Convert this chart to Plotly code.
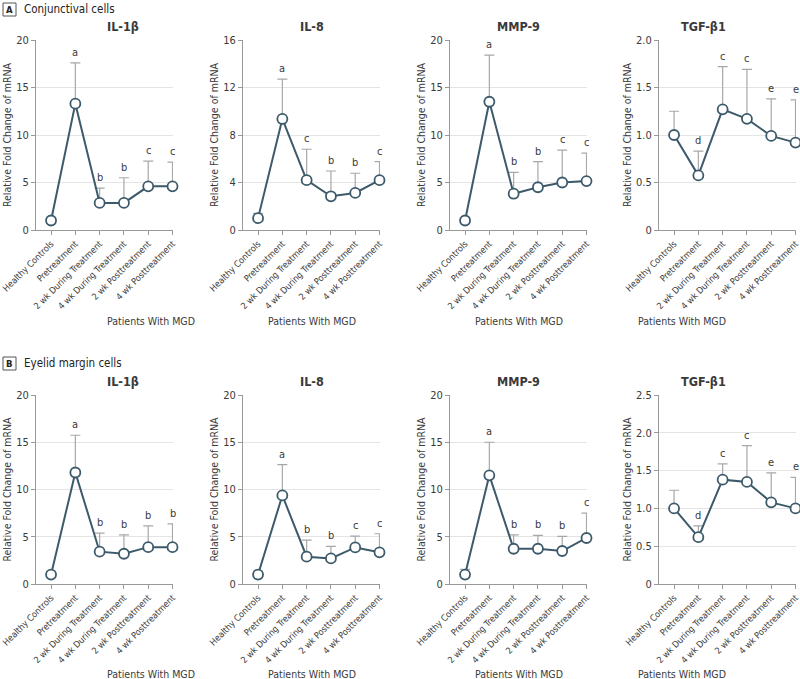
import plotly.graph_objects as go

categories = ["Healthy Controls", "Pretreatment", "2 wk During Treatment",
              "4 wk During Treatment", "2 wk Posttreatment", "4 wk Posttreatment"]

titles = ["IL-1β", "IL-8", "MMP-9", "TGF-β1"]

# Panel A: Conjunctival cells
a_il1b = [1.0, 13.3, 2.85, 2.85, 4.6, 4.6]
a_il1b_err = [0.3, 4.3, 1.55, 2.65, 2.65, 2.55]
a_il1b_sig = ["", "a", "b", "b", "c", "c"]

a_il8 = [1.0, 9.35, 4.2, 2.84, 3.12, 4.2]
a_il8_err = [0.4, 3.35, 2.6, 2.13, 1.66, 1.55]
a_il8_sig = ["", "a", "c", "b", "b", "c"]

a_mmp9 = [1.0, 13.5, 3.82, 4.5, 5.0, 5.15]
a_mmp9_err = [0.25, 4.9, 2.25, 2.7, 3.4, 2.95]
a_mmp9_sig = ["", "a", "b", "b", "c", "c"]

a_tgf = [1.0, 0.575, 1.27, 1.17, 0.99, 0.92]
a_tgf_err = [0.25, 0.255, 0.45, 0.52, 0.39, 0.45]
a_tgf_sig = ["", "d", "c", "c", "e", "e"]

# Panel B: Eyelid margin cells
b_il1b = [1.0, 11.8, 3.42, 3.2, 3.9, 3.9]
b_il1b_err = [0.3, 3.94, 1.97, 2.0, 2.26, 2.47]
b_il1b_sig = ["", "a", "b", "b", "b", "b"]

b_il8 = [1.0, 9.37, 2.89, 2.71, 3.87, 3.35]
b_il8_err = [0.35, 3.27, 1.76, 1.27, 1.2, 1.97]
b_il8_sig = ["", "a", "b", "b", "c", "c"]

b_mmp9 = [1.0, 11.5, 3.73, 3.73, 3.49, 4.87]
b_mmp9_err = [0.55, 3.5, 1.47, 1.41, 1.55, 2.63]
b_mmp9_sig = ["", "a", "b", "b", "b", "c"]

b_tgf = [1.0, 0.62, 1.38, 1.35, 1.08, 1.0]
b_tgf_err = [0.24, 0.15, 0.21, 0.48, 0.39, 0.41]
b_tgf_sig = ["", "d", "c", "c", "e", "e"]

a_ticks = [
    ([0, 5, 10, 15, 20], ["0", "5", "10", "15", "20"], 20),
    ([0, 4, 8, 12, 16], ["0", "4", "8", "12", "16"], 16),
    ([0, 5, 10, 15, 20], ["0", "5", "10", "15", "20"], 20),
    ([0, 0.5, 1.0, 1.5, 2.0], ["0", "0.5", "1.0", "1.5", "2.0"], 2.0),
]
b_ticks = [
    ([0, 5, 10, 15, 20], ["0", "5", "10", "15", "20"], 20),
    ([0, 5, 10, 15, 20], ["0", "5", "10", "15", "20"], 20),
    ([0, 5, 10, 15, 20], ["0", "5", "10", "15", "20"], 20),
    ([0, 0.5, 1.0, 1.5, 2.0, 2.5], ["0", "0.5", "1.0", "1.5", "2.0", "2.5"], 2.5),
]

rows = [
    [(a_il1b, a_il1b_err, a_il1b_sig), (a_il8, a_il8_err, a_il8_sig),
     (a_mmp9, a_mmp9_err, a_mmp9_sig), (a_tgf, a_tgf_err, a_tgf_sig)],
    [(b_il1b, b_il1b_err, b_il1b_sig), (b_il8, b_il8_err, b_il8_sig),
     (b_mmp9, b_mmp9_err, b_mmp9_sig), (b_tgf, b_tgf_err, b_tgf_sig)],
]
row_ticks = [a_ticks, b_ticks]

W, H = 800, 679
LINE = "#3d5a6b"
ERR = "#a8a8a8"
TXT = "#3a3a3a"
FONT = "DejaVu Sans Condensed, Roboto, sans-serif"

x_px = [(36, 173), (243, 380), (450, 587), (659, 796)]
y_px = [(40, 230), (395, 584)]  # top, bottom
title_y = [27, 381]
xtitle_y = [321, 674]
head_y = [9, 363]
head_text = [("A", "Conjunctival cells"), ("B", "Eyelid margin cells")]

fig = go.Figure()
layout = dict(width=W, height=H, margin=dict(l=0, r=0, t=0, b=0, autoexpand=False),
              plot_bgcolor="white", paper_bgcolor="white", showlegend=False,
              font=dict(family=FONT, color=TXT))
annotations = []
shapes = []
xvals = list(range(len(categories)))

for r in range(2):
    top, bot = y_px[r]
    ydom = [1 - bot / H, 1 - top / H]
    for c in range(4):
        idx = r * 4 + c + 1
        xname = "x" if idx == 1 else f"x{idx}"
        yname = "y" if idx == 1 else f"y{idx}"
        vals, err, sig = rows[r][c]
        tv, tt, ymax = row_ticks[r][c]
        fig.add_trace(go.Scatter(
            x=xvals, y=vals, xaxis=xname, yaxis=yname, mode="lines+markers",
            line=dict(color=LINE, width=2),
            marker=dict(size=10, color="white", line=dict(color=LINE, width=1.8)),
            error_y=dict(type="data", symmetric=False, array=err,
                         arrayminus=[0] * len(err), color=ERR, thickness=1.2, width=5),
            cliponaxis=False, hoverinfo="skip"))
        x0, x1 = x_px[c]
        xk = "xaxis" if idx == 1 else f"xaxis{idx}"
        yk = "yaxis" if idx == 1 else f"yaxis{idx}"
        layout[xk] = dict(domain=[x0 / W, x1 / W], anchor=yname, range=[-0.62, 5.02],
                          automargin=False, ticklabeloverflow="allow",
                          tickvals=xvals, ticktext=categories, tickangle=-45,
                          tickfont=dict(size=9, color=TXT), ticks="outside",
                          ticklen=4, tickcolor="#999", showline=True, linecolor="#999",
                          linewidth=1, showgrid=False, zeroline=False, fixedrange=True)
        layout[yk] = dict(domain=ydom, anchor=xname, range=[0, ymax],
                          automargin=False,
                          tickvals=tv, ticktext=tt, tickfont=dict(size=11, color=TXT),
                          ticks="outside", ticklen=4, tickcolor="#999",
                          showline=True, linecolor="#999", linewidth=1,
                          showgrid=True, gridcolor="#e4e4e4", gridwidth=1,
                          zeroline=False,
                          title=dict(text="Relative Fold Change of mRNA",
                                     font=dict(size=10.5, color=TXT), standoff=2),
                          fixedrange=True)
        for i in range(len(vals)):
            if sig[i]:
                annotations.append(dict(x=i, y=vals[i] + err[i], xref=xname, yref=yname,
                                        text=sig[i], showarrow=False, yanchor="bottom",
                                        yshift=2, font=dict(size=11, color=TXT)))
        # Panel title
        annotations.append(dict(x=(x0 + x1) / 2 / W, y=1 - title_y[r] / H, xref="paper",
                                yref="paper", text=f"<b>{titles[c]}</b>", showarrow=False,
                                yanchor="middle", font=dict(size=12.5, color=TXT)))
        annotations.append(dict(x=(x0 + x1) / 2 / W, y=1 - xtitle_y[r] / H, xref="paper",
                                yref="paper", text="Patients With MGD", showarrow=False,
                                yanchor="middle", font=dict(size=10.5, color=TXT)))
    # Section header
    letter, label = head_text[r]
    hy = head_y[r]
    shapes.append(dict(type="rect", xref="paper", yref="paper",
                       x0=3 / W, x1=16 / W, y0=1 - (hy + 7) / H, y1=1 - (hy - 6) / H,
                       line=dict(color="#555", width=1), fillcolor="white", layer="below"))
    annotations.append(dict(x=9.5 / W, y=1 - (hy + 0.5) / H, xref="paper", yref="paper",
                            text=f"<b>{letter}</b>", showarrow=False, yanchor="middle",
                            xanchor="center", font=dict(size=9.5, color="#222")))
    annotations.append(dict(x=22 / W, y=1 - hy / H, xref="paper", yref="paper",
                            text=label, showarrow=False, xanchor="left", yanchor="middle",
                            font=dict(size=11.5, color="#222")))

layout["annotations"] = annotations
layout["shapes"] = shapes
fig.update_layout(**layout)
fig.write_html("out.html", config={"displayModeBar": False},
               post_script="document.body.style.margin='0';document.body.style.padding='0';")
